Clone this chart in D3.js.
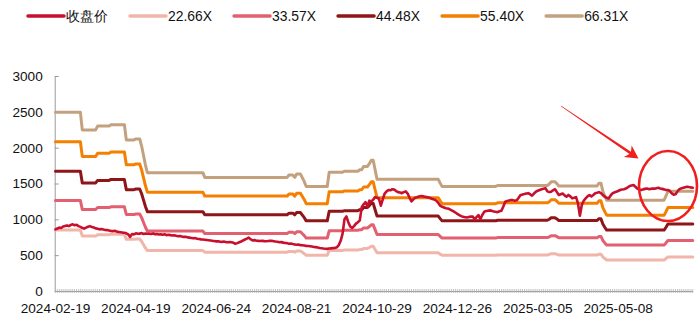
<!DOCTYPE html>
<html>
<head>
<meta charset="utf-8">
<script src="https://cdn.jsdelivr.net/npm/d3@7/dist/d3.min.js"></script>
<style>
  html, body { margin: 0; padding: 0; background: #fff; }
  svg { display: block; }
  text { font-family: "Liberation Sans", Arial, sans-serif; fill: #111; }
</style>
</head>
<body>
<svg id="chart" width="700" height="327"></svg>
<script>
// Daily closing price, one value per trading day from 2024-02-19
const closePrice = [
  860, 872, 885, 880, 900, 908, 915, 905, 922, 930,
  918, 925, 905, 895, 880, 870, 884, 896, 905, 892,
  885, 874, 868, 860, 866, 858, 852, 850, 845, 838,
  835, 840, 828, 824, 820, 815, 812, 805, 790, 755,
  795, 790, 805, 798, 800, 808, 795, 802, 798, 800,
  796, 804, 792, 795, 788, 790, 785, 792, 780, 784,
  780, 775, 778, 770, 765, 768, 760, 755, 758, 748,
  745, 740, 735, 738, 728, 725, 720, 718, 715, 712,
  708, 704, 700, 698, 692, 695, 688, 685, 690, 682,
  680, 684, 680, 672, 660, 668, 680, 690, 705, 718,
  730, 745, 720, 705, 710, 702, 700, 698, 702, 696,
  695, 698, 702, 700, 695, 690, 686, 680, 682, 675,
  670, 668, 660, 662, 655, 650, 645, 648, 640, 638,
  635, 630, 628, 625, 620, 615, 612, 608, 600, 596,
  592, 590, 588, 592, 595, 598, 600, 610, 640, 700,
  800, 1000, 1040, 960, 900, 880, 905, 940, 960, 985,
  1170, 1210, 1240, 1180, 1260, 1250, 1275, 1310, 1300, 1290,
  1190, 1280, 1360, 1390, 1410, 1405, 1420, 1415, 1395, 1380,
  1375, 1365, 1380, 1390, 1360, 1300, 1250, 1280, 1300, 1310,
  1318, 1325, 1320, 1315, 1310, 1305, 1295, 1285, 1275, 1260,
  1230, 1190, 1175, 1165, 1155, 1150, 1140, 1125, 1110, 1095,
  1075, 1060, 1045, 1035, 1030, 1025, 1032, 1038, 1040, 1000,
  1030, 1060, 1000, 1060, 1105, 1115, 1120, 1125, 1118, 1110,
  1105, 1100, 1112, 1120, 1180, 1245, 1255, 1262, 1270, 1268,
  1260, 1265, 1300, 1340, 1345, 1352, 1360, 1365, 1350, 1330,
  1360, 1385, 1400, 1410, 1420, 1428, 1435, 1390, 1380, 1386,
  1405, 1420, 1380, 1340, 1350, 1360, 1335, 1316, 1340, 1320,
  1293, 1300, 1310, 1224, 1050, 1200, 1260, 1293, 1320, 1340,
  1320, 1340, 1363, 1370, 1380, 1365, 1340, 1316, 1300, 1290,
  1330, 1363, 1375, 1386, 1395, 1409, 1415, 1420, 1430, 1445,
  1465, 1472, 1479, 1455, 1430, 1415, 1409, 1418, 1425, 1430,
  1422, 1425, 1430, 1428, 1435, 1440, 1430, 1425, 1418, 1409,
  1409, 1395, 1363, 1345, 1350, 1390, 1420, 1433, 1440, 1448,
  1456, 1450, 1445, 1440
];

// Per-share earnings used for the bands: [first trading-day index, value],
// each value holds until the next entry
const epsRuns = [
  [0, 37.6], [14, 33.9], [22, 34.7], [29, 35.0], [37, 31.8], [42, 32.0],
  [45, 30.5], [46, 28.5], [47, 26.5], [48, 24.9], [78, 23.9], [122, 24.4],
  [125, 23.9], [126, 24.6], [129, 23.8], [130, 23.0], [131, 22.0], [143, 25.0],
  [151, 25.2], [159, 25.5], [161, 26.2], [164, 26.8], [165, 27.5], [167, 25.5],
  [168, 23.5], [201, 22.7], [202, 22.0], [231, 22.2], [258, 22.5], [259, 23.0],
  [262, 22.6], [263, 22.1], [284, 22.7], [286, 21.0], [287, 20.0], [288, 19.1],
  [319, 20.0], [320, 21.0]
];

// PE multiples of the bands
const multiples = [22.66, 33.57, 44.48, 55.40, 66.31];

const seriesNames = ["收盘价", "22.66X", "33.57X", "44.48X", "55.40X", "66.31X"];
const seriesColors = ["#C8102E", "#F2B5A9", "#E2606F", "#8E1518", "#F57F00", "#C4A17E"];

// x-axis labels, one every 42 trading days
const tickLabels = ["2024-02-19", "2024-04-19", "2024-06-24", "2024-08-21",
                    "2024-10-29", "2024-12-26", "2025-03-05", "2025-05-08"];
const tickEvery = 42;
const yTicks = [0, 500, 1000, 1500, 2000, 2500, 3000];

// ---- derived series ----
const n = closePrice.length;
const eps = [];
for (let r = 0; r < epsRuns.length; r++) {
  const end = r + 1 < epsRuns.length ? epsRuns[r + 1][0] : n;
  for (let i = epsRuns[r][0]; i < end; i++) eps[i] = epsRuns[r][1];
}
const bands = multiples.map(m => eps.map(e => e * m));

// ---- layout ----
const svg = d3.select("#chart");
const plot = { left: 54.7, right: 693, top: 76, bottom: 291 };

const x = d3.scaleLinear().domain([0, n - 1]).range([55.5, 692.8]);
const y = d3.scaleLinear().domain([0, 3000]).range([plot.bottom, plot.top]);

const axisColor = "#9a9a9a";

// y axis: line, inward ticks, labels
const yAxis = d3.axisLeft(y).tickValues(yTicks).tickFormat(d3.format("d"))
  .tickSize(0).tickPadding(12);
const yg = svg.append("g").attr("transform", `translate(${plot.left},0)`).call(yAxis);
yg.select(".domain").attr("stroke", axisColor).attr("stroke-width", 1);
yg.selectAll(".tick text")
  .attr("font-size", "13.6px")
  .attr("font-family", "'Liberation Sans', Arial, sans-serif")
  .attr("fill", "#111");
yg.selectAll(".tick").append("line")
  .attr("x1", 0).attr("x2", 4).attr("stroke", axisColor);

// x axis: one small tick per trading day, labels every 42 days
const xg = svg.append("g");
xg.append("line")
  .attr("x1", plot.left).attr("x2", plot.right)
  .attr("y1", plot.bottom + 0.5).attr("y2", plot.bottom + 0.5)
  .attr("stroke", axisColor);
xg.selectAll("line.day").data(d3.range(n)).join("line")
  .attr("class", "day")
  .attr("x1", d => x(d)).attr("x2", d => x(d))
  .attr("y1", plot.bottom - 2).attr("y2", plot.bottom + 2)
  .attr("stroke", "#b4b4b4").attr("stroke-width", 0.8);
xg.selectAll("text.xl").data(tickLabels).join("text")
  .attr("class", "xl")
  .attr("x", (d, k) => x(k * tickEvery))
  .attr("y", 313)
  .attr("text-anchor", "middle")
  .attr("font-size", "13.6px")
  .text(d => d);

// lines
const line = d3.line().x((d, i) => x(i)).y(d => y(d)).curve(d3.curveLinear);
const linesG = svg.append("g").attr("fill", "none")
  .attr("stroke-linejoin", "round").attr("stroke-linecap", "round");
bands.forEach((b, k) => {
  linesG.append("path").attr("d", line(b))
    .attr("stroke", seriesColors[k + 1]).attr("stroke-width", 3);
});
linesG.append("path").attr("d", line(closePrice))
  .attr("stroke", seriesColors[0]).attr("stroke-width", 2.6);

// legend
const legend = svg.append("g");
let lx = 28;
seriesNames.forEach((name, k) => {
  legend.append("line")
    .attr("x1", lx).attr("x2", lx + 36).attr("y1", 16).attr("y2", 16)
    .attr("stroke", seriesColors[k]).attr("stroke-width", 3.5)
    .attr("stroke-linecap", "round");
  const t = legend.append("text")
    .attr("x", lx + 38).attr("y", 21)
    .attr("font-size", k === 0 ? "13.5px" : "13.9px")
    .attr("font-family", k === 0 ? "'Noto Sans CJK SC', sans-serif" : "'Liberation Sans', Arial, sans-serif")
    .text(name);
  lx += 36 + 2 + t.node().getComputedTextLength() + 22;
});

// callout: arrow and ellipse around the latest prices
const callRed = "#F01E1E";
const a0 = [561, 106], a1 = [638.5, 158.5];
const dx = a1[0] - a0[0], dy = a1[1] - a0[1], len = Math.hypot(dx, dy);
const ux = dx / len, uy = dy / len, nx = -uy, ny = ux;
const headLen = 13, headW = 7, notch = 3;
const bx = a1[0] - ux * headLen, by = a1[1] - uy * headLen;
const shaft = [
  [a0[0] + nx * 0.3, a0[1] + ny * 0.3],
  [bx + ux * notch + nx * 1.3, by + uy * notch + ny * 1.3],
  [bx + nx * headW, by + ny * headW],
  a1,
  [bx - nx * headW, by - ny * headW],
  [bx + ux * notch - nx * 1.3, by + uy * notch - ny * 1.3],
  [a0[0] - nx * 0.3, a0[1] - ny * 0.3]
];
svg.append("path")
  .attr("d", "M" + shaft.map(p => p.join(",")).join("L") + "Z")
  .attr("fill", callRed);
svg.append("ellipse")
  .attr("cx", 668).attr("cy", 186).attr("rx", 29).attr("ry", 35)
  .attr("fill", "none").attr("stroke", callRed).attr("stroke-width", 2.6);
</script>
</body>
</html>
